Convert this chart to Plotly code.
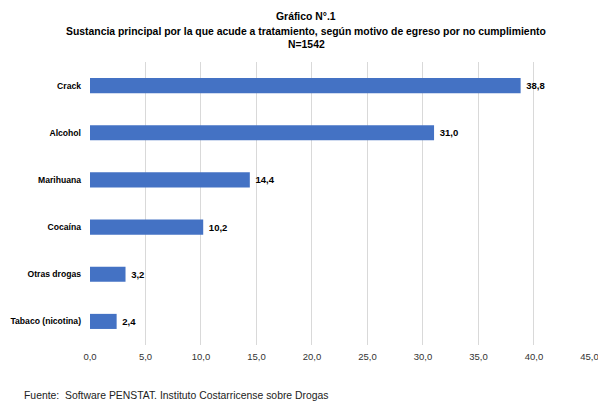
import plotly.graph_objects as go

categories = ["Crack", "Alcohol", "Marihuana", "Cocaína", "Otras drogas", "Tabaco (nicotina)"]
values = [38.8, 31.0, 14.4, 10.2, 3.2, 2.4]
tick_vals = [0, 5, 10, 15, 20, 25, 30, 35, 40, 45]
tick_text = ["0,0", "5,0", "10,0", "15,0", "20,0", "25,0", "30,0", "35,0", "40,0", "45,0"]
title_lines = [
    "Gráfico N°.1",
    "Sustancia principal por la que acude a tratamiento, según motivo de egreso por no cumplimiento",
    "N=1542",
]
source_text = "Fuente:  Software PENSTAT. Instituto Costarricense sobre Drogas"
labels = ["\u00a0" + f"{v:.1f}".replace(".", ",") for v in values]

FONT = "Liberation Sans"
W, H = 598, 401
L, T = 90, 62
R = W - 590
B = H - 345
ph = H - T - B
pw = W - L - R


def py(pix):
    return (H - B - pix) / ph


def px(pix):
    return (pix - L) / pw


fig = go.Figure(go.Bar(
    x=values, y=categories, orientation="h",
    marker=dict(color="#4472C4", line=dict(width=0)),
    text=labels, textposition="outside",
    textfont=dict(family=FONT, size=9.5, color="#000000", weight="bold"),
    cliponaxis=False, width=0.32, hoverinfo="skip",
))

annotations = []
for line, ypix in zip(title_lines, [17, 31, 44]):
    annotations.append(dict(
        text=f"<b>{line}</b>", xref="paper", yref="paper",
        x=px(306), y=py(ypix), xanchor="center", yanchor="middle",
        showarrow=False, font=dict(family=FONT, size=10.4, color="#000000"),
    ))
annotations.append(dict(
    text=source_text, xref="paper", yref="paper",
    x=px(22), y=py(395), xanchor="left", yanchor="middle",
    showarrow=False, font=dict(family=FONT, size=10.4, color="#222222"),
))

fig.update_layout(
    width=W, height=H,
    margin=dict(l=L, r=R, t=T, b=B, autoexpand=False),
    paper_bgcolor="white", plot_bgcolor="white",
    showlegend=False,
    font=dict(family=FONT),
    xaxis=dict(
        range=[0, 45.05], tickvals=tick_vals, ticktext=tick_text,
        showgrid=True, gridcolor="#d9d9d9", gridwidth=1,
        zeroline=False, showline=False, automargin=False,
        tickfont=dict(family=FONT, size=9.5, color="#333333"),
        ticks="", ticklabelstandoff=4, ticklabeloverflow="allow",
    ),
    yaxis=dict(
        categoryorder="array", categoryarray=categories[::-1],
        range=[-0.5, 5.5], automargin=False,
        showgrid=False, zeroline=False, showline=False, ticks="",
        tickfont=dict(family=FONT, size=8.6, color="#000000", weight="bold"),
        ticklabelstandoff=8,
    ),
    annotations=annotations,
)

fig.write_html(
    "out.html",
    config={"displayModeBar": False, "staticPlot": True},
    post_script="document.body.style.margin='0px';document.body.style.overflow='hidden';",
)
